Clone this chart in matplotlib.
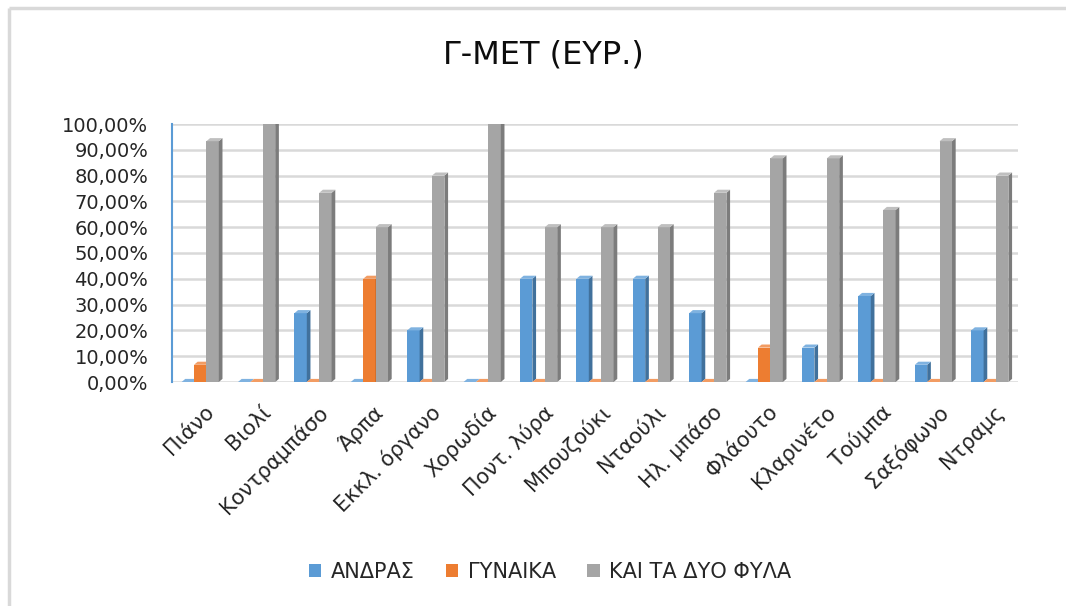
import matplotlib
matplotlib.use("Agg")
import matplotlib.pyplot as plt
from matplotlib.lines import Line2D
from matplotlib.patches import Polygon, Rectangle
from matplotlib.ticker import FuncFormatter

plt.rcParams["font.family"] = ["DejaVu Sans"]

CATEGORIES = ["Πιάνο", "Βιολί", "Κοντραμπάσο", "Άρπα", "Εκκλ. όργανο", "Χορωδία",
              "Ποντ. λύρα", "Μπουζούκι", "Νταούλι", "Ηλ. μπάσο", "Φλάουτο",
              "Κλαρινέτο", "Τούμπα", "Σαξόφωνο", "Ντραμς"]
ANDRAS = [0, 0, 26.67, 0, 20, 0, 40, 40, 40, 26.67, 0, 13.33, 33.33, 6.67, 20]
GYNAIKA = [6.67, 0, 0, 40, 0, 0, 0, 0, 0, 0, 13.33, 0, 0, 0, 0]
KAI_TA_DYO = [93.33, 100, 73.33, 60, 80, 100, 60, 60, 60, 73.33, 86.67, 86.67, 66.67, 93.33, 80]

SERIES = [("ΑΝΔΡΑΣ", ANDRAS, "#5B9BD5", "#41719C", "#7FB2E0"),
          ("ΓΥΝΑΙΚΑ", GYNAIKA, "#ED7D31", "#AE5A21", "#F29C63"),
          ("ΚΑΙ ΤΑ ΔΥΟ ΦΥΛΑ", KAI_TA_DYO, "#A5A5A5", "#7C7C7C", "#BFBFBF")]

fig = plt.figure(figsize=(10.66, 6.06), dpi=100)
# chart-area border (only top and left edges are inside the picture)
bx, by = 8.5 / 1066, 1 - 7.5 / 606
fig.add_artist(Line2D([bx, bx], [0, by], transform=fig.transFigure, color="#D9D9D9", lw=2.5,
                      solid_capstyle="butt"))
fig.add_artist(Line2D([bx, 1], [by, by], transform=fig.transFigure, color="#D9D9D9", lw=2.5,
                      solid_capstyle="butt"))

ax = fig.add_axes([172 / 1066, 1 - 382 / 606, 846 / 1066, 258 / 606])

# 3D-looking columns: front face, darker side face and lighter top face
w, dx, dy = 0.22, 0.065, 1.2
offsets = [-0.22, 0.0, 0.22]
for (name, vals, face, side, top), off in zip(SERIES, offsets):
    for i, v in enumerate(vals):
        x0 = i + off - w / 2
        ax.add_patch(Rectangle((x0, 0), w, v, fc=face, ec="none", zorder=3))
        ax.add_patch(Polygon([(x0 + w, 0), (x0 + w + dx, dy), (x0 + w + dx, v + dy), (x0 + w, v)],
                             closed=True, fc=side, ec="none", zorder=3))
        ax.add_patch(Polygon([(x0, v), (x0 + w, v), (x0 + w + dx, v + dy), (x0 + dx, v + dy)],
                             closed=True, fc=top, ec="none", zorder=3))
    ax.bar([0], [0], color=face, label=name)

ax.set_xlim(-0.5, len(CATEGORIES) - 0.5)
ax.set_ylim(0, 100)
ax.set_yticks(range(0, 101, 10))
ax.yaxis.set_major_formatter(FuncFormatter(lambda v, p: f"{v:.2f}%".replace(".", ",")))
ax.set_xticks([i + 0.07 for i in range(len(CATEGORIES))])
ax.set_xticklabels(CATEGORIES, rotation=45, ha="right", rotation_mode="anchor")
ax.xaxis.set_tick_params(length=0, pad=14, labelsize=15, labelcolor="#262626")
ax.yaxis.set_tick_params(length=0, pad=17, labelsize=14, labelcolor="#262626")
ax.grid(axis="y", color="#D9D9D9", lw=1.8, zorder=0)
for s in ("top", "right", "bottom"):
    ax.spines[s].set_visible(False)
ax.spines["left"].set_color("#5B9BD5")
ax.spines["left"].set_linewidth(1.5)
ax.set_axisbelow(True)

fig.text(543 / 1066, 1 - 55 / 606, "Γ-ΜΕΤ (ΕΥΡ.)", ha="center", va="center", fontsize=23, color="#0d0d0d")
fig.legend(loc="center", bbox_to_anchor=(550 / 1066, 1 - 572 / 606), ncol=3, frameon=False,
           fontsize=15, handlelength=0.6, handleheight=0.6, columnspacing=1.5, handletextpad=0.45)
for t in fig.legends[0].get_texts():
    t.set_color("#262626")

fig.savefig("out.png", dpi=100)
